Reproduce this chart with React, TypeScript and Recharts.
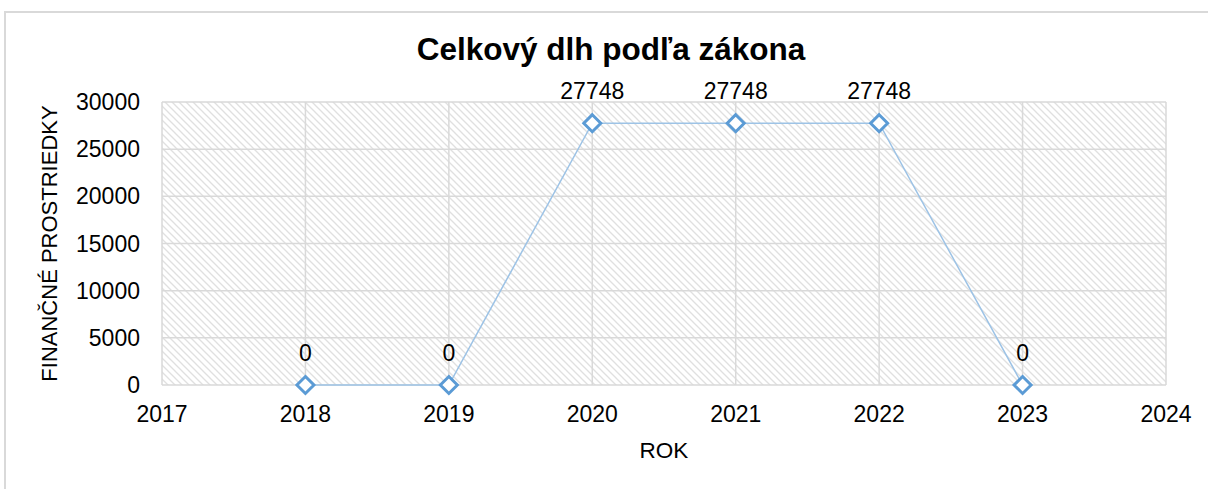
import React from "react";
import { LineChart, Line, XAxis, YAxis, CartesianGrid, LabelList } from "recharts";

const years = [2018, 2019, 2020, 2021, 2022, 2023];
const debt = [0, 0, 27748, 27748, 27748, 0];
const xTicks = [2017, 2018, 2019, 2020, 2021, 2022, 2023, 2024];
const yTicks = [0, 5000, 10000, 15000, 20000, 25000, 30000];
const title = "Celkový dlh podľa zákona";
const xTitle = "ROK";
const yTitle = "FINANČNÉ PROSTRIEDKY";

const data = years.map((y, i) => ({ year: y, value: debt[i] }));

const FONT = "'Liberation Sans', Arial, sans-serif";

const Diamond = (props: any) => {
  const { cx, cy } = props;
  if (cx == null || cy == null) return null;
  const s = 8.5;
  return (
    <polygon
      points={`${cx},${cy - s} ${cx + s},${cy} ${cx},${cy + s} ${cx - s},${cy}`}
      fill="#ffffff"
      stroke="#5b9bd5"
      strokeWidth={3}
    />
  );
};

const ValueLabel = (props: any) => {
  const { x, y, value } = props;
  return (
    <text x={x} y={y - 24} textAnchor="middle" fontSize={23} fontFamily={FONT} fill="#000">
      {value}
    </text>
  );
};

export default function App() {
  return (
    <div style={{ position: "absolute", left: 0, top: 0, width: 1208, height: 489, overflow: "hidden", background: "#fff" }}>
      <div
        style={{
          position: "absolute",
          left: 4,
          top: 11,
          width: 1300,
          height: 600,
          border: "2px solid #d9d9d9",
        }}
      />
      <div style={{ position: "absolute", left: 0, top: 0 }}>
        <LineChart
          width={1208}
          height={489}
          data={data}
          margin={{ top: 102, right: 42, bottom: 0, left: 0 }}
          style={{ fontFamily: FONT }}
        >
          <defs>
            <pattern id="hatch" patternUnits="userSpaceOnUse" width="7" height="7">
              <rect width="7" height="7" fill="#ffffff" />
              <path d="M-2,-2 L9,9 M-2,5 L2,9 M5,-2 L9,2" stroke="#e0e0e0" strokeWidth="1.3" />
            </pattern>
          </defs>
          <text x={611} y={60} textAnchor="middle" fontSize={31.5} fontWeight="bold" fontFamily={FONT} fill="#000">
            {title}
          </text>
          <CartesianGrid stroke="#d9d9d9" strokeWidth={1.5} fill="url(#hatch)" fillOpacity={1} />
          <XAxis
            dataKey="year"
            type="number"
            domain={[2017, 2024]}
            ticks={xTicks}
            allowDecimals={false}
            height={104}
            axisLine={false}
            tickLine={false}
            tickSize={0}
            tickMargin={21}
            tick={{ fontSize: 23, fill: "#000", fontFamily: FONT }}
            interval={0}
            label={{
              content: (p: any) => {
                const vb = p.viewBox;
                return (
                  <text x={vb.x + vb.width / 2} y={458} textAnchor="middle" fontSize={22.5} fontFamily={FONT} fill="#000">
                    {xTitle}
                  </text>
                );
              },
            }}
          />
          <YAxis
            type="number"
            domain={[0, 30000]}
            ticks={yTicks}
            width={162}
            axisLine={false}
            tickLine={false}
            tickSize={0}
            tickMargin={22}
            tick={{ fontSize: 23, fill: "#000", fontFamily: FONT }}
            interval={0}
            label={{
              content: (p: any) => {
                const vb = p.viewBox;
                const cy = vb.y + vb.height / 2;
                return (
                  <text
                    x={57}
                    y={cy}
                    transform={`rotate(-90, 57, ${cy})`}
                    textAnchor="middle"
                    fontSize={22}
                    fontFamily={FONT}
                    fill="#000"
                  >
                    {yTitle}
                  </text>
                );
              },
            }}
          />
          <Line
            dataKey="value"
            stroke="#9dc3e6"
            strokeWidth={1.5}
            dot={<Diamond />}
            activeDot={false}
            isAnimationActive={false}
          >
            <LabelList dataKey="value" content={<ValueLabel />} />
          </Line>
        </LineChart>
      </div>
    </div>
  );
}
